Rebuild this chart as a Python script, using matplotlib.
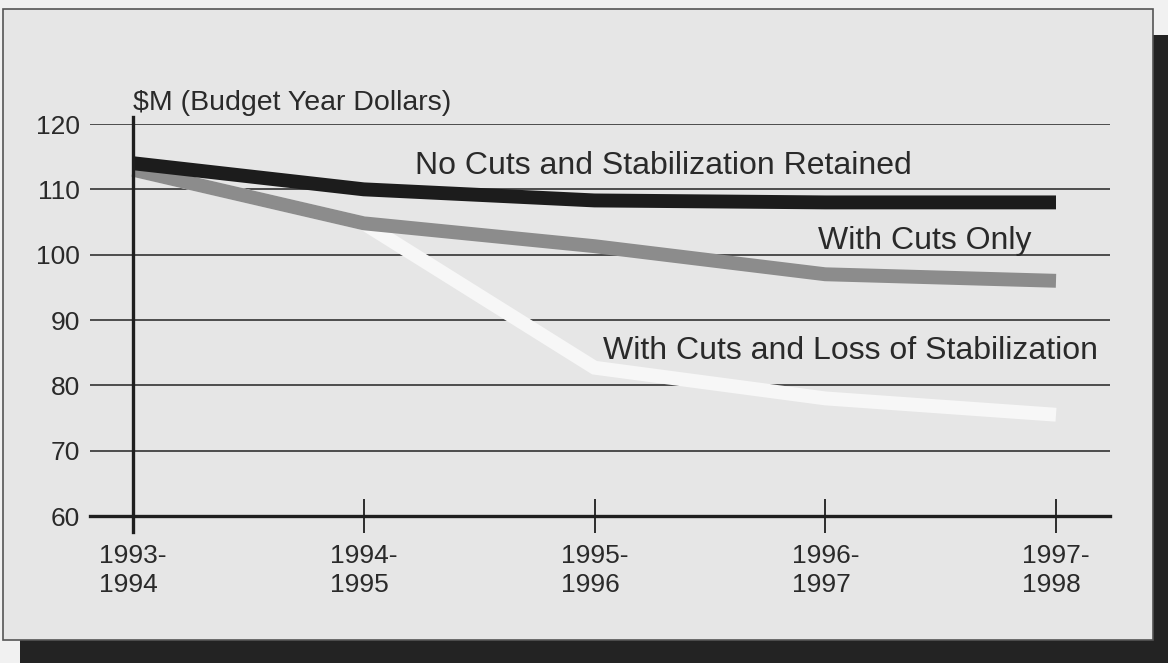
import matplotlib.pyplot as plt
import matplotlib.patches as patches

# data
years = ["1993-\n1994", "1994-\n1995", "1995-\n1996", "1996-\n1997", "1997-\n1998"]
no_cuts = [114, 110, 108.3, 108, 108]
cuts_only = [113, 104.8, 101.3, 97, 96]
cuts_loss = [113, 104.8, 82.7, 78, 75.5]
y_ticks = [60, 70, 80, 90, 100, 110, 120]

plt.rcParams['font.family'] = ['Liberation Sans', 'DejaVu Sans']
txt = '#2a2a2a'

W, H = 1168, 663
fig = plt.figure(figsize=(W/100, H/100), dpi=100, facecolor='#f1f1f1')

# shadow and panel (figure pixel coords -> fraction)
def fr(x0, y0, x1, y1):
    return (x0/W, 1 - y1/H), (x1 - x0)/W, (y1 - y0)/H

xy, w, h = fr(20, 35, W, H)
fig.patches.append(patches.Rectangle(xy, w, h, transform=fig.transFigure,
                                     facecolor='#232323', edgecolor='none', zorder=-3))
xy, w, h = fr(3, 9, 1153, 640)
fig.patches.append(patches.Rectangle(xy, w, h, transform=fig.transFigure,
                                     facecolor='#e6e6e6', edgecolor='#555555',
                                     lw=1.2, zorder=-2))

# axes: x=0 at px 133, x=4 at px 1056 ; y=60 at px 516, y=120 at px 124
ux = (1056 - 133) / 4
ax = fig.add_axes([90/W, (H - 516)/H, 1020/W, (516 - 124)/H])
ax.set_facecolor('none')
ax.set_xlim((90 - 133)/ux, (1110 - 133)/ux)
ax.set_ylim(60, 120)

for s in ['top', 'right', 'left']:
    ax.spines[s].set_visible(False)
ax.spines['bottom'].set_linewidth(2.4)
ax.spines['bottom'].set_color('#1e1e1e')

ax.set_yticks(y_ticks)
ax.tick_params(axis='y', length=0, pad=7, labelsize=19, labelcolor=txt)
for yv in y_ticks[1:]:
    ax.axhline(yv, color='#333333', lw=1.2, zorder=1)

xs = list(range(len(years)))
ax.set_xticks(xs)
ax.set_xticklabels(years, ha='center', multialignment='left', linespacing=1.3)
ax.tick_params(axis='x', direction='inout', length=24, width=1.3, color='#1e1e1e',
               pad=8, labelsize=19, labelcolor=txt)

# vertical axis line
ax.plot([0, 0], [57.5, 121], color='#1e1e1e', lw=2.4, clip_on=False, zorder=6)

lw = 10
ax.plot(xs, cuts_loss, color='#f7f7f7', lw=lw, solid_capstyle='butt',
        solid_joinstyle='miter', zorder=3)
ax.plot(xs, cuts_only, color='#8c8c8c', lw=lw, solid_capstyle='butt',
        solid_joinstyle='miter', zorder=4)
ax.plot(xs, no_cuts, color='#1c1c1c', lw=lw, solid_capstyle='butt',
        solid_joinstyle='miter', zorder=5)

ax.text(0, 123.2, "$M (Budget Year Dollars)", ha='left', va='center',
        fontsize=20.5, color=txt, clip_on=False)
ax.text(2.297, 113.6, "No Cuts and Stabilization Retained", ha='center',
        va='center', fontsize=23, color=txt)
ax.text(3.432, 102.1, "With Cuts Only", ha='center', va='center',
        fontsize=23, color=txt)
ax.text(3.111, 85.2, "With Cuts and Loss of Stabilization", ha='center',
        va='center', fontsize=23, color=txt)

fig.savefig('out.png', dpi=100, facecolor=fig.get_facecolor())
